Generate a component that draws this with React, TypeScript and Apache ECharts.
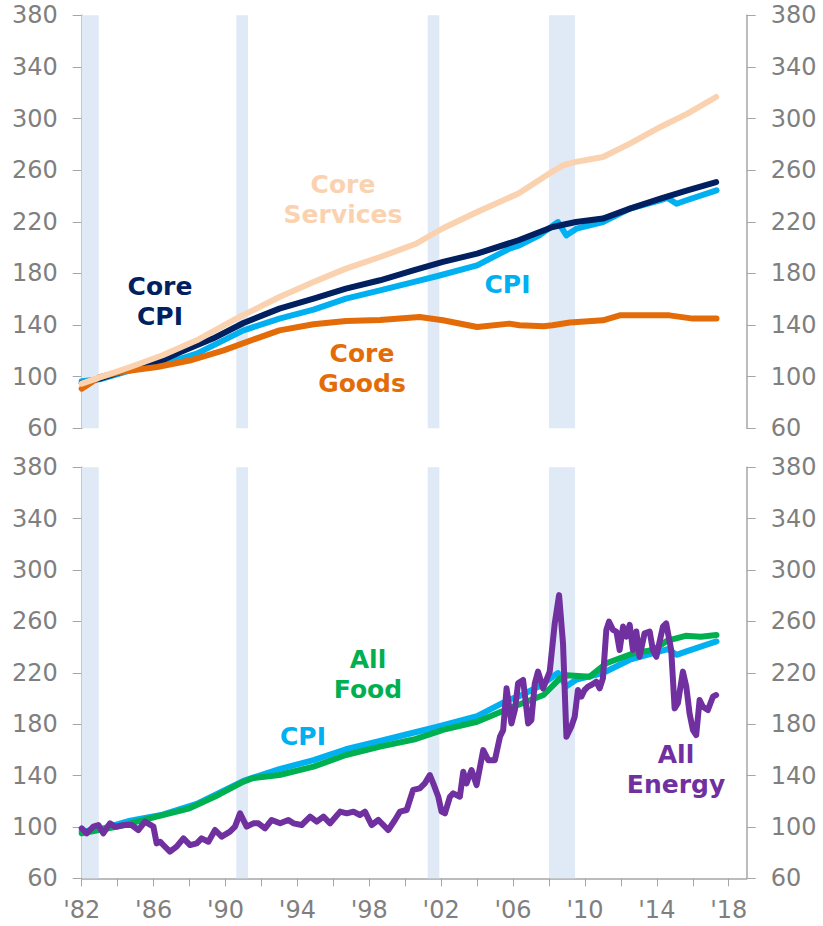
import React, { useEffect, useRef } from "react";
import * as echarts from "echarts";

// ---------- data ----------
const recessionStarts = [1982.0, 1990.6, 2001.25, 2008.0];
const recessionEnds = [1982.95, 1991.25, 2001.9, 2009.45];

const xTickYears = [1982, 1984, 1986, 1988, 1990, 1992, 1994, 1996, 1998, 2000, 2002, 2004, 2006, 2008, 2010, 2012, 2014, 2016, 2018];
const xLabelYears = [1982, 1986, 1990, 1994, 1998, 2002, 2006, 2010, 2014, 2018];

const coreServicesYears = [1982.0, 1982.8, 1984.7, 1986.5, 1988.4, 1990.6, 1993.0, 1994.9, 1996.7, 1998.6, 2000.6, 2002.1, 2004.0, 2006.3, 2008.0, 2008.8, 2009.5, 2011.0, 2012.5, 2014.2, 2015.7, 2017.3];
const coreServicesValues = [94.6, 98.5, 107.5, 116.6, 128.2, 145.0, 161.7, 173.4, 183.7, 192.7, 203.0, 215.0, 227.6, 242.0, 257.3, 263.8, 266.4, 270.2, 280.6, 293.5, 303.8, 316.7];

const coreCpiYears = [1982.0, 1983.0, 1984.7, 1986.2, 1987.5, 1989.3, 1991.0, 1993.0, 1994.9, 1996.7, 1998.6, 2000.5, 2002.1, 2004.0, 2006.3, 2008.2, 2009.5, 2011.0, 2012.5, 2014.2, 2015.7, 2017.3];
const coreCpiValues = [95.0, 98.5, 106.0, 111.0, 119.1, 129.5, 141.6, 152.7, 160.5, 168.2, 174.7, 182.5, 188.9, 195.3, 205.7, 216.0, 219.8, 222.5, 230.2, 238.0, 244.4, 250.8];

const cpiYears = [1982.0, 1983.0, 1984.7, 1986.5, 1988.4, 1991.0, 1993.0, 1994.9, 1996.7, 1998.6, 2000.5, 2001.8, 2004.0, 2005.8, 2006.35, 2007.46, 2008.5, 2008.97, 2009.53, 2011.0, 2012.5, 2014.17, 2014.6, 2015.1, 2015.65, 2017.32];
const cpiValues = [96.5, 98.0, 104.9, 109.5, 117.9, 135.9, 145.0, 152.0, 160.5, 166.9, 173.5, 178.0, 186.3, 199.2, 201.8, 209.5, 219.8, 209.5, 214.7, 219.8, 230.2, 236.7, 238.5, 234.0, 236.7, 244.4];

const coreGoodsYears = [1982.0, 1983.0, 1984.1, 1986.2, 1988.0, 1989.9, 1991.7, 1993.0, 1994.9, 1996.7, 1998.6, 2000.8, 2002.1, 2004.0, 2005.8, 2006.35, 2007.7, 2008.2, 2009.16, 2011.0, 2011.94, 2013.4, 2014.7, 2016.0, 2017.32];
const coreGoodsValues = [90.7, 99.7, 103.6, 107.5, 112.5, 120.4, 129.5, 135.9, 140.6, 143.1, 144.0, 146.2, 143.7, 138.5, 141.1, 139.8, 139.0, 139.8, 142.0, 143.7, 147.5, 147.5, 147.5, 145.0, 145.0];

const foodYears = [1982.0, 1984.0, 1986.0, 1988.0, 1989.6, 1991.0, 1991.5, 1993.0, 1994.9, 1996.7, 1998.6, 2000.6, 2002.1, 2004.0, 2005.8, 2007.7, 2008.6, 2009.0, 2010.27, 2011.19, 2012.7, 2013.8, 2014.55, 2015.6, 2016.45, 2017.32];
const foodValues = [95.0, 100.2, 107.5, 114.5, 124.9, 135.2, 137.9, 140.4, 146.9, 156.0, 162.5, 168.5, 175.5, 181.9, 192.4, 202.7, 215.5, 218.0, 217.0, 227.4, 235.2, 237.8, 244.8, 248.8, 248.1, 249.5];

const energyYears = [
  1982.0, 1982.28, 1982.65, 1982.93, 1983.2, 1983.57, 1983.85, 1984.41, 1984.78, 1985.15,
  1985.52, 1985.99, 1986.17, 1986.36, 1986.54, 1986.91, 1987.28, 1987.66, 1988.03, 1988.4,
  1988.67, 1989.05, 1989.42, 1989.79, 1990.25, 1990.53, 1990.81, 1991.18, 1991.55, 1991.83,
  1992.2, 1992.57, 1993.04, 1993.5, 1993.78, 1994.24, 1994.71, 1995.08, 1995.45, 1995.82,
  1996.38, 1996.75, 1997.12, 1997.48, 1997.76, 1998.13, 1998.5, 1999.06, 1999.43, 1999.71,
  2000.08, 2000.44, 2000.81, 2001.09, 2001.37, 2001.56, 2001.84, 2002.02, 2002.21, 2002.49,
  2002.67, 2003.04, 2003.23, 2003.41, 2003.69, 2003.97, 2004.34, 2004.62, 2004.99, 2005.27,
  2005.45, 2005.64, 2005.91, 2006.1, 2006.28, 2006.56, 2006.84, 2007.02, 2007.21, 2007.39,
  2007.67, 2008.04, 2008.32, 2008.56, 2008.78, 2008.97, 2009.24, 2009.43, 2009.61, 2009.8,
  2009.98, 2010.17, 2010.35, 2010.63, 2010.82, 2011.0, 2011.19, 2011.34, 2011.56, 2011.75,
  2011.93, 2012.12, 2012.3, 2012.49, 2012.67, 2012.86, 2013.04, 2013.32, 2013.6, 2013.78,
  2013.97, 2014.34, 2014.52, 2014.8, 2014.99, 2015.17, 2015.45, 2015.64, 2015.82, 2016.01,
  2016.19, 2016.38, 2016.56, 2016.84, 2017.12, 2017.3,
];
const energyValues = [
  98.9, 95.0, 100.2, 101.5, 95.0, 102.8, 100.2, 101.5, 101.5, 97.6,
  104.1, 100.2, 87.2, 88.5, 85.9, 80.7, 84.6, 91.1, 85.9, 87.2,
  91.1, 88.5, 97.6, 92.4, 96.3, 100.2, 110.6, 100.2, 102.8, 102.8,
  98.9, 105.4, 102.8, 105.4, 102.8, 101.5, 108.0, 104.1, 108.0, 102.8,
  111.9, 110.6, 111.9, 109.3, 111.9, 101.5, 105.4, 97.6, 105.4, 111.9,
  113.2, 128.8, 130.0, 133.9, 140.4, 133.9, 123.5, 111.9, 110.6, 123.5,
  126.1, 123.5, 143.0, 133.9, 144.3, 132.6, 159.8, 152.0, 152.0, 170.2,
  175.4, 207.9, 180.6, 191.0, 211.8, 214.4, 180.6, 183.2, 211.8, 220.9,
  207.9, 220.9, 258.5, 280.5, 242.9, 170.2, 178.0, 185.8, 206.6, 201.4,
  206.6, 209.2, 210.5, 213.1, 207.9, 215.7, 253.4, 259.8, 253.4, 252.1,
  237.8, 256.0, 248.2, 257.3, 237.8, 252.1, 232.5, 250.8, 252.1, 237.8,
  232.5, 256.0, 258.5, 237.8, 192.3, 196.3, 220.9, 209.2, 188.4, 175.4,
  171.5, 198.8, 193.6, 191.0, 201.4, 202.7,
];

// ---------- styling ----------
const FONT = "DejaVu Sans";
const AXIS_GRAY = "#a6a6a6";
const LABEL_GRAY = "#7f7f7f";
const BAND = "#e0e9f6";
const C_SERV = "#fbd2b0";
const C_CORE = "#002060";
const C_CPI = "#00b0f0";
const C_GOODS = "#e36c09";
const C_FOOD = "#00b050";
const C_ENERGY = "#7030a0";

const zip = (xs: number[], ys: number[]) => xs.map((x, i) => [x, ys[i]]);

const bands = recessionStarts.map((s, i) => [{ xAxis: s }, { xAxis: recessionEnds[i] }]);

function lineSeries(name: string, xi: number, data: number[][], color: string, withBands = false) {
  const s: any = {
    name,
    type: "line",
    xAxisIndex: xi,
    yAxisIndex: xi * 2,
    data,
    showSymbol: false,
    symbol: "none",
    smooth: false,
    lineStyle: { color, width: 6, cap: "round", join: "round" },
    itemStyle: { color },
    silent: true,
  };
  if (withBands) {
    s.markArea = { silent: true, itemStyle: { color: BAND }, data: bands };
  }
  return s;
}

function yAxisFor(gridIndex: number, position: "left" | "right") {
  return {
    type: "value",
    gridIndex,
    position,
    min: 60,
    max: 380,
    interval: 40,
    axisLine: { show: true, onZero: false, lineStyle: { color: AXIS_GRAY, width: 1.5 } },
    axisTick: { show: true, inside: false, length: 9, lineStyle: { color: AXIS_GRAY, width: 1 } },
    axisLabel: { show: true, fontSize: 24, color: LABEL_GRAY, fontFamily: FONT, margin: 24 },
    splitLine: { show: false },
  };
}

function annotation(text: string, x: number, y: number, color: string) {
  return {
    type: "text",
    x,
    y,
    z: 100,
    silent: true,
    style: {
      text,
      fill: color,
      fontSize: 25,
      fontWeight: "bold",
      fontFamily: FONT,
      align: "center",
      verticalAlign: "middle",
      lineHeight: 30,
    },
  };
}

export default function App() {
  const ref = useRef<HTMLDivElement>(null);

  useEffect(() => {
    if (!ref.current) return;
    const chart = echarts.init(ref.current, undefined, { renderer: "svg" });
    const option: any = {
      animation: false,
      backgroundColor: "#ffffff",
      textStyle: { fontFamily: FONT },
      grid: [
        { left: 81.7, top: 15.3, width: 665, height: 413 },
        { left: 81.7, top: 467.3, width: 665, height: 411 },
      ],
      xAxis: [
        { type: "value", gridIndex: 0, min: 1982, max: 2019, show: false },
        {
          type: "value",
          gridIndex: 1,
          min: 1982,
          max: 2019,
          interval: 2,
          axisLine: { show: true, onZero: false, lineStyle: { color: AXIS_GRAY, width: 1.5 } },
          axisTick: { show: true, length: 8, customValues: xTickYears, lineStyle: { color: AXIS_GRAY, width: 1 } },
          axisLabel: {
            show: true,
            customValues: xLabelYears,
            fontSize: 24,
            color: LABEL_GRAY,
            fontFamily: FONT,
            margin: 20,
            formatter: (v: number) => ((Math.round(v) - 1982) % 4 === 0 ? "'" + String(Math.round(v)).slice(2) : ""),
          },
          splitLine: { show: false },
        },
      ],
      yAxis: [yAxisFor(0, "left"), yAxisFor(0, "right"), yAxisFor(1, "left"), yAxisFor(1, "right")],
      series: [
        lineSeries("CPI", 0, zip(cpiYears, cpiValues), C_CPI, true),
        lineSeries("Core CPI", 0, zip(coreCpiYears, coreCpiValues), C_CORE),
        lineSeries("Core Goods", 0, zip(coreGoodsYears, coreGoodsValues), C_GOODS),
        lineSeries("Core Services", 0, zip(coreServicesYears, coreServicesValues), C_SERV),
        lineSeries("CPI ", 1, zip(cpiYears, cpiValues), C_CPI, true),
        lineSeries("All Food", 1, zip(foodYears, foodValues), C_FOOD),
        lineSeries("All Energy", 1, zip(energyYears, energyValues), C_ENERGY),
      ],
      graphic: [
        annotation("Core\nCPI", 160, 301.5, C_CORE),
        annotation("Core\nServices", 343, 199, C_SERV),
        annotation("CPI", 507.5, 284, C_CPI),
        annotation("Core\nGoods", 362, 368.5, C_GOODS),
        annotation("All\nFood", 368, 674, C_FOOD),
        annotation("CPI", 303, 736, C_CPI),
        annotation("All\nEnergy", 676, 769.5, C_ENERGY),
      ],
    };
    chart.setOption(option);
    return () => chart.dispose();
  }, []);

  return (
    <div
      ref={ref}
      style={{ position: "fixed", left: 0, top: 0, width: 823, height: 926, background: "#ffffff" }}
    />
  );
}
